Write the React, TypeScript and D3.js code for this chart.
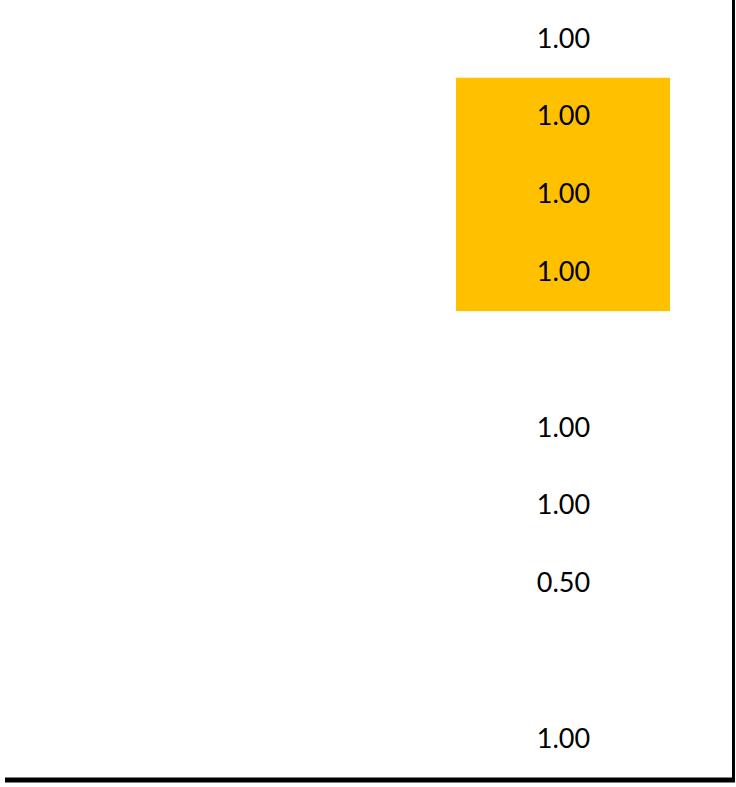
import React from "react";
import * as d3 from "d3";

const rows = ["r1", "r2", "r3", "r4", "r5", "r6", "r7", "r8", "r9", "r10"];
const values: (number | null)[] = [1.0, 1.0, 1.0, 1.0, null, 1.0, 1.0, 0.5, null, 1.0];
const highlighted = ["r2", "r3", "r4"];
const columns = ["blank", "value", "gap"];

const W = 736;
const H = 787;

export default function App() {
  const y = d3.scaleBand<string>().domain(rows).range([0, 777.8]);
  const x = d3
    .scaleOrdinal<string, [number, number]>()
    .domain(columns)
    .range([
      [5, 456],
      [456, 670],
      [670, 733],
    ]);
  const [vx0, vx1] = x("value");
  const hiRows = highlighted.map((r) => y(r)!);
  const hiTop = d3.min(hiRows)!;
  const hiBottom = d3.max(hiRows)! + y.bandwidth();
  const fmt = d3.format(".2f");
  return (
    <div style={{ position: "fixed", left: 0, top: 0, background: "#fff" }}>
      <svg width={W} height={H} style={{ display: "block" }}>
        <rect x={0} y={0} width={W} height={H} fill="#fff" />
        <rect x={vx0} y={hiTop} width={vx1 - vx0} height={hiBottom - hiTop} fill="#FFC000" />
        {rows.map((r, i) =>
          values[i] == null ? null : (
            <text
              key={r}
              x={(vx0 + vx1) / 2 + 0.5}
              y={y(r)! + y.bandwidth() / 2 + 8.8}
              textAnchor="middle"
              fontFamily="Lato, sans-serif"
              fontSize={27}
              fill="#000"
            >
              {fmt(values[i] as number)}
            </text>
          )
        )}
        <line x1={733.5} x2={733.5} y1={0} y2={780} stroke="#000" strokeWidth={3} />
        <line x1={5} x2={735} y1={780} y2={780} stroke="#000" strokeWidth={5} />
      </svg>
    </div>
  );
}
